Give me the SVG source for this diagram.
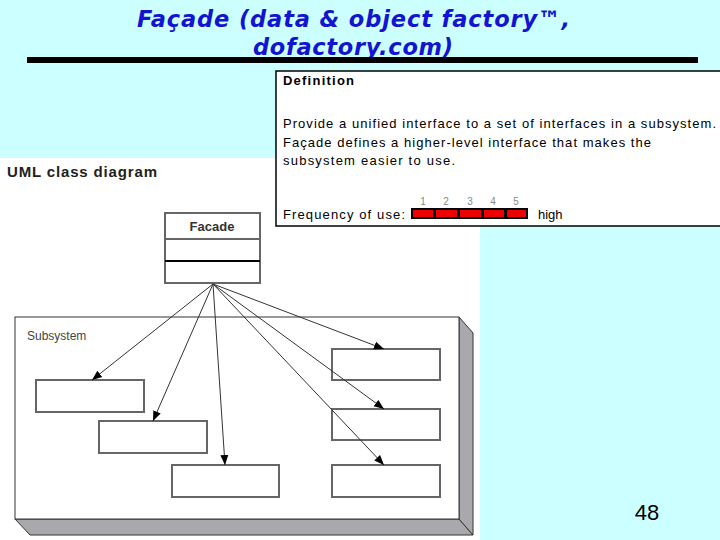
<svg xmlns="http://www.w3.org/2000/svg" width="720" height="540" viewBox="0 0 720 540">
<defs>
<style>
.title{font-family:"DejaVu Sans",sans-serif;font-weight:bold;font-style:oblique;font-size:22.5px;fill:#1414d0}
.def{font-family:"Liberation Sans",Arial,sans-serif;font-size:13px;fill:#000}
.num{font-family:"Liberation Sans",Arial,sans-serif;font-size:10px;fill:#888}
.box{fill:#fff;stroke:#666;stroke-width:2}
.conn{stroke:#333;stroke-width:1;fill:none}
</style>
<marker id="ah" viewBox="0 0 10 10" refX="10" refY="5" markerWidth="10" markerHeight="10" markerUnits="userSpaceOnUse" orient="auto">
<path d="M0,1 L10,5 L0,9 Z" fill="#000"/>
</marker>
</defs>
<rect x="0" y="0" width="720" height="540" fill="#ccffff"/>
<text class="title" x="137" y="27" textLength="433" lengthAdjust="spacing">Façade (data &amp; object factory™,</text>
<text class="title" x="253" y="55" textLength="200" lengthAdjust="spacing">dofactory.com)</text>
<rect x="27" y="57" width="671" height="6" fill="#000"/>

<g id="uml-image">
<rect x="0" y="158" width="480" height="382" fill="#fff"/>
<text x="7" y="177" font-family="Liberation Sans, Arial, sans-serif" font-weight="bold" font-size="15" fill="#222" textLength="150">UML class diagram</text>
</g>

<g id="subsystem">
<polygon points="15,519 459,519 473,535 30,535" fill="#a9a9ad" stroke="#333" stroke-width="1"/>
<polygon points="459,317 473,333 473,535 459,519" fill="#a9a9ad" stroke="#333" stroke-width="1"/>
<rect x="15" y="317" width="444" height="202" fill="#fff" stroke="#333" stroke-width="1"/>
<text x="27" y="340" font-family="Liberation Sans, Arial, sans-serif" font-size="12" fill="#444">Subsystem</text>
</g>

<g id="class-a"><rect class="box" x="36" y="380" width="108" height="32"/></g>
<g id="class-b"><rect class="box" x="99" y="421" width="108" height="32"/></g>
<g id="class-c"><rect class="box" x="172" y="465" width="107" height="32"/></g>
<g id="class-d"><rect class="box" x="332" y="349" width="108" height="31"/></g>
<g id="class-e"><rect class="box" x="332" y="409" width="108" height="31"/></g>
<g id="class-f"><rect class="box" x="332" y="465" width="108" height="32"/></g>

<g id="facade">
<rect class="box" x="165" y="213" width="95" height="70"/>
<line x1="165" y1="239" x2="260" y2="239" stroke="#666" stroke-width="2"/>
<line x1="165" y1="261" x2="260" y2="261" stroke="#000" stroke-width="2"/>
<text x="212" y="231" text-anchor="middle" font-family="Liberation Sans, Arial, sans-serif" font-weight="bold" font-size="13" fill="#333">Facade</text>
</g>

<g id="connectors">
<line class="conn" x1="213" y1="284" x2="92" y2="380" marker-end="url(#ah)"/>
<line class="conn" x1="213" y1="284" x2="153" y2="421" marker-end="url(#ah)"/>
<line class="conn" x1="213" y1="284" x2="225" y2="465" marker-end="url(#ah)"/>
<line class="conn" x1="213" y1="284" x2="384" y2="349" marker-end="url(#ah)"/>
<line class="conn" x1="213" y1="284" x2="384" y2="409" marker-end="url(#ah)"/>
<line class="conn" x1="213" y1="284" x2="384" y2="465" marker-end="url(#ah)"/>
</g>

<g id="definition">
<rect x="276" y="71" width="450" height="155" fill="#fff" stroke="#000" stroke-width="1.5"/>
<text class="def" x="283" y="85" font-weight="bold" textLength="71">Definition</text>
<text class="def" x="283" y="128" textLength="433">Provide a unified interface to a set of interfaces in a subsystem.</text>
<text class="def" x="283" y="147" textLength="368">Façade defines a higher-level interface that makes the</text>
<text class="def" x="283" y="165" textLength="172">subsystem easier to use.</text>
<text class="def" x="283" y="219" textLength="122">Frequency of use:</text>
<rect x="411" y="208" width="117" height="11" fill="#000"/>
<rect x="413" y="210" width="20" height="7" fill="#e00"/>
<rect x="436" y="210" width="21" height="7" fill="#e00"/>
<rect x="460" y="210" width="21" height="7" fill="#e00"/>
<rect x="484" y="210" width="20" height="7" fill="#e00"/>
<rect x="507" y="210" width="19" height="7" fill="#e00"/>
<text class="num" x="423" y="205" text-anchor="middle">1</text>
<text class="num" x="446" y="205" text-anchor="middle">2</text>
<text class="num" x="470" y="205" text-anchor="middle">3</text>
<text class="num" x="493" y="205" text-anchor="middle">4</text>
<text class="num" x="516" y="205" text-anchor="middle">5</text>
<text class="def" x="538" y="219">high</text>
</g>

<text x="647" y="520" text-anchor="middle" font-family="Liberation Sans, Arial, sans-serif" font-size="22" fill="#000">48</text>
</svg>
